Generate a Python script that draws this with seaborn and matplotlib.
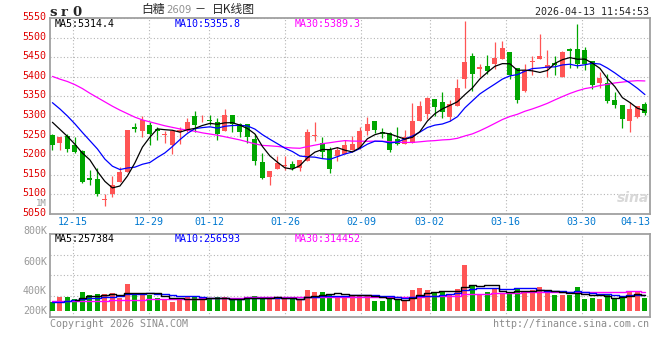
import numpy as np
import pandas as pd
import matplotlib
matplotlib.use("Agg")
import matplotlib.pyplot as plt
import matplotlib.transforms as mtransforms
import seaborn as sns

# daily candles (80 sessions, 12-10 .. 04-13)
opens = [5251, 5230, 5249, 5227, 5211, 5141, 5139, 5085, 5101, 5132,
         5156, 5273, 5261, 5278, 5266, 5252, 5225, 5259, 5265, 5301,
         5289, 5291, 5285, 5261, 5302, 5280, 5280, 5242, 5182, 5145,
         5166, 5172, 5178, 5168, 5184, 5249, 5232, 5214, 5197, 5203,
         5214, 5218, 5262, 5287, 5260, 5256, 5241, 5228, 5232, 5287,
         5305, 5343, 5336, 5298, 5325, 5394, 5453, 5421, 5428, 5433,
         5445, 5462, 5422, 5365, 5437, 5446, 5422, 5434, 5400, 5470,
         5471, 5468, 5440, 5385, 5383, 5341, 5328, 5286, 5298, 5331]
highs = [5254, 5247, 5254, 5246, 5213, 5162, 5168, 5100, 5147, 5170,
         5265, 5281, 5299, 5284, 5273, 5263, 5261, 5272, 5294, 5313,
         5303, 5302, 5296, 5318, 5302, 5282, 5280, 5253, 5206, 5159,
         5199, 5199, 5185, 5187, 5268, 5284, 5246, 5222, 5222, 5239,
         5250, 5273, 5297, 5287, 5269, 5260, 5271, 5264, 5332, 5339,
         5348, 5344, 5362, 5340, 5394, 5542, 5460, 5433, 5456, 5490,
         5491, 5462, 5422, 5432, 5452, 5509, 5468, 5453, 5466, 5474,
         5535, 5477, 5440, 5411, 5406, 5360, 5328, 5335, 5325, 5335]
lows = [5214, 5214, 5208, 5205, 5130, 5123, 5097, 5070, 5093, 5132,
        5156, 5260, 5246, 5225, 5240, 5230, 5204, 5228, 5260, 5260,
        5284, 5277, 5239, 5261, 5259, 5246, 5231, 5175, 5139, 5125,
        5165, 5161, 5161, 5159, 5184, 5235, 5194, 5154, 5184, 5203,
        5213, 5217, 5252, 5256, 5245, 5207, 5226, 5228, 5232, 5286,
        5292, 5300, 5294, 5286, 5325, 5372, 5365, 5400, 5407, 5419,
        5445, 5394, 5332, 5360, 5405, 5446, 5400, 5405, 5400, 5423,
        5423, 5417, 5369, 5371, 5332, 5320, 5269, 5258, 5296, 5302]
closes = [5225, 5247, 5215, 5208, 5132, 5138, 5100, 5088, 5125, 5156,
          5265, 5268, 5289, 5253, 5261, 5254, 5261, 5265, 5284, 5278,
          5291, 5288, 5254, 5302, 5280, 5259, 5246, 5184, 5143, 5159,
          5179, 5174, 5168, 5187, 5259, 5251, 5208, 5166, 5212, 5227,
          5229, 5262, 5280, 5264, 5253, 5212, 5229, 5247, 5287, 5326,
          5347, 5322, 5309, 5331, 5372, 5439, 5407, 5424, 5415, 5449,
          5473, 5405, 5341, 5417, 5440, 5453, 5430, 5431, 5464, 5467,
          5432, 5432, 5379, 5398, 5337, 5328, 5292, 5317, 5325, 5307]

# moving-average lines as drawn on the chart
ma5 = [5284, 5266, 5248, 5228, 5205.4, 5188.0, 5158.6, 5133.2, 5116.6, 5121.4,
       5146.8, 5180.4, 5220.6, 5246.2, 5267.2, 5265.0, 5263.6, 5258.8, 5265.0, 5268.4,
       5275.8, 5281.2, 5279.0, 5282.6, 5283.0, 5276.6, 5268.2, 5254.2, 5222.4, 5198.2,
       5182.2, 5167.8, 5164.6, 5173.4, 5193.4, 5207.8, 5214.6, 5214.2, 5219.2, 5212.8,
       5208.4, 5219.2, 5242.0, 5252.4, 5257.6, 5254.2, 5247.6, 5241.0, 5245.6, 5260.2,
       5287.2, 5305.8, 5318.2, 5327.0, 5336.2, 5354.6, 5371.6, 5394.6, 5411.4, 5426.8,
       5433.6, 5433.2, 5416.6, 5417.0, 5415.2, 5411.2, 5416.2, 5434.2, 5443.6, 5449.0,
       5444.8, 5445.2, 5434.8, 5421.6, 5395.6, 5374.8, 5346.8, 5334.4, 5319.8, 5313.8]
ma10 = [5334, 5318, 5300, 5280, 5258, 5237, 5216, 5190, 5172, 5163.4,
        5167.4, 5169.5, 5176.9, 5181.4, 5194.3, 5205.9, 5222.0, 5239.7, 5255.6, 5267.8,
        5270.4, 5272.4, 5268.9, 5273.8, 5275.7, 5276.2, 5274.7, 5266.6, 5252.5, 5240.6,
        5229.4, 5218.0, 5209.4, 5197.9, 5195.8, 5195.0, 5191.2, 5189.4, 5196.3, 5203.1,
        5208.1, 5216.9, 5228.1, 5235.8, 5235.2, 5231.3, 5233.4, 5241.5, 5249.0, 5258.9,
        5270.7, 5276.7, 5279.6, 5286.3, 5298.2, 5320.9, 5338.7, 5356.4, 5369.2, 5381.5,
        5394.1, 5402.4, 5405.6, 5414.2, 5421.0, 5422.4, 5424.7, 5425.4, 5430.3, 5432.1,
        5428.0, 5430.7, 5434.5, 5432.6, 5422.3, 5409.8, 5396.0, 5384.6, 5370.7, 5354.7]
ma30 = [5401, 5394, 5388, 5380, 5370, 5358, 5347, 5336, 5325, 5315,
        5306, 5297, 5290, 5285, 5280, 5275, 5271, 5267, 5264, 5261,
        5257, 5254, 5251, 5247, 5243, 5239, 5234, 5229, 5225, 5223.9,
        5222.4, 5220.0, 5218.4, 5217.7, 5221.9, 5225.7, 5229.3, 5231.9, 5234.8, 5237.2,
        5236.0, 5235.8, 5235.5, 5235.8, 5235.6, 5234.2, 5233.1, 5232.5, 5232.6, 5234.2,
        5236.1, 5237.2, 5239.0, 5240.0, 5243.1, 5249.1, 5254.4, 5262.4, 5271.5, 5281.2,
        5291.0, 5298.7, 5304.4, 5312.1, 5318.1, 5324.9, 5332.3, 5341.1, 5349.5, 5357.5,
        5364.3, 5369.9, 5373.2, 5377.7, 5380.5, 5384.4, 5386.5, 5388.8, 5390.1, 5389.4]

# volume in thousands of lots, and its averages
vol_k = [149, 224, 224, 190, 305, 256, 272, 272, 288, 211,
         437, 280, 262, 259, 211, 194, 146, 203, 222, 222,
         203, 190, 222, 224, 173, 178, 222, 240, 222, 224,
         191, 191, 191, 191, 337, 305, 305, 271, 238, 248,
         259, 259, 259, 162, 162, 206, 194, 178, 340, 373,
         345, 292, 308, 280, 356, 745, 405, 275, 308, 377,
         292, 292, 356, 324, 345, 389, 296, 259, 259, 264,
         389, 194, 215, 199, 254, 199, 248, 329, 308, 215]
vol_ma5 = [np.nan, np.nan, np.nan, 185, 218, 240, 249, 259, 279, 260,
           296, 298, 296, 290, 290, 241, 214, 203, 195, 197,
           199, 208, 212, 212, 202, 197, 204, 207, 207, 217,
           220, 214, 204, 198, 220, 243, 266, 282, 291, 273,
           264, 255, 253, 237, 220, 210, 197, 180, 216, 258,
           286, 306, 332, 320, 316, 396, 419, 412, 418, 422,
           331, 309, 325, 328, 322, 341, 342, 323, 310, 293,
           293, 273, 264, 252, 250, 212, 223, 246, 268, 260]
vol_ma10 = [146, 150, 165, 184, 200, 210, 216, 224, 230, 239,
            268, 274, 277, 284, 275, 269, 256, 249, 243, 244,
            220, 211, 207, 204, 200, 198, 206, 210, 210, 210,
            209, 209, 206, 202, 219, 231, 240, 243, 244, 247,
            254, 260, 267, 264, 247, 237, 226, 217, 227, 239,
            248, 251, 256, 268, 287, 341, 362, 372, 369, 369,
            364, 364, 369, 373, 372, 336, 325, 324, 319, 308,
            317, 308, 293, 281, 272, 253, 248, 255, 260, 255]
vol_ma30 = [157, 158, 160, 162, 164, 166, 168, 170, 172, 175,
            178, 181, 184, 187, 190, 192, 194, 196, 198, 200,
            203, 206, 209, 212, 215, 218, 222, 225, 228, 231,
            232, 231, 230, 230, 231, 233, 234, 234, 232, 233,
            227, 227, 227, 223, 222, 222, 224, 223, 227, 232,
            237, 240, 243, 245, 251, 270, 276, 277, 280, 285,
            288, 292, 297, 302, 302, 305, 304, 304, 305, 305,
            310, 307, 306, 307, 310, 310, 312, 317, 316, 311]

date_labels = ["12-15", "12-29", "01-12", "01-26", "02-09", "03-02", "03-16", "03-30", "04-13"]
date_slots = [3, 13, 21, 31, 41, 50, 60, 70, 79]

RED = "#ff5555"
GREEN = "#00a600"
GRID = "#b4b4b4"
FRAME = "#a0a0a0"
GRAY = "#8c8c8c"
DATE_BLUE = "#0078d0"
FS = 7.2

sns.set_style("white")
plt.rcParams["font.family"] = ["DejaVu Sans Mono", "Noto Sans CJK SC"]

W, H = 660, 360
fig = plt.figure(figsize=(W / 100, H / 100), dpi=100)
fig.patch.set_facecolor("white")


def box(left, top, right, bottom):
    return [left / W, 1 - bottom / H, (right - left) / W, (bottom - top) / H]


def ftext(x, y, s, **kw):
    kw.setdefault("va", "center")
    fig.text(x / W, 1 - y / H, s, **kw)


ax = fig.add_axes(box(50, 18, 650, 214))
axv = fig.add_axes(box(50, 234, 650, 317))

idx = np.arange(len(closes))
o, h, l, c = (np.array(v, dtype=float) for v in (opens, highs, lows, closes))
up = c >= o
colors = np.where(up, RED, GREEN)

# candles
ax.vlines(idx, l, h, colors=colors, linewidth=0.9, zorder=3)
ax.bar(idx, np.maximum(np.abs(c - o), 1.6), bottom=np.minimum(o, c),
       width=0.66, color=colors, linewidth=0, zorder=4)

for vals, col in ((ma30, "#ff00ff"), (ma10, "#0000ff"), (ma5, "black")):
    sns.lineplot(x=idx, y=vals, ax=ax, color=col, linewidth=0.9, zorder=5)

# volume
vdf = pd.DataFrame({"i": idx, "vol": vol_k, "dir": np.where(up, "up", "down")})
sns.barplot(data=vdf, x="i", y="vol", hue="dir", palette={"up": RED, "down": GREEN},
            native_scale=True, dodge=False, legend=False, width=0.68, saturation=1,
            errorbar=None, linewidth=0, ax=axv, zorder=3)
for vals, col in ((vol_ma30, "#ff00ff"), (vol_ma10, "#0000ff"), (vol_ma5, "black")):
    sns.lineplot(x=idx, y=vals, ax=axv, color=col, linewidth=1.0,
                 drawstyle="steps-mid", zorder=5)

tick_x = [s * 80 / 79 - 0.32 for s in date_slots]
for a in (ax, axv):
    a.set_xlim(-0.32, 79.68)
    a.set_xlabel("")
    a.set_ylabel("")
    for sp in a.spines.values():
        sp.set_color(FRAME)
        sp.set_linewidth(1.3)
    a.tick_params(length=0)
    a.set_xticks(tick_x)
    a.grid(True, color=GRID, linestyle=(0, (1, 2)), linewidth=0.8)
    a.set_axisbelow(True)

ax.set_ylim(5050, 5550)
ax.set_yticks(range(5050, 5551, 50))
ax.tick_params(axis="y", labelcolor="#e00000", labelsize=FS, pad=3)
ax.set_xticklabels(date_labels, color=DATE_BLUE, fontsize=FS)
ax.tick_params(axis="x", pad=2)
ax.get_xticklabels()[-1].set_horizontalalignment("right")
shift = mtransforms.ScaledTranslation(0, 1.4 / 72, fig.dpi_scale_trans)
for lab in ax.get_yticklabels():
    lab.set_transform(lab.get_transform() + shift)

axv.set_ylim(-97, 1247)
axv.set_yticks([243, 583, 907])
axv.set_yticklabels([])
axv.set_xticklabels([])

# header
ftext(49, 12, "s", fontsize=9.5, fontweight="bold", family="DejaVu Serif")
ftext(61, 12, "r", fontsize=9.5, fontweight="bold", family="DejaVu Serif")
ftext(72, 12, "0", fontsize=9.5, fontweight="bold", family="DejaVu Serif")
ftext(141, 10, "白糖", fontsize=8.5, family=["Noto Sans CJK SC", "DejaVu Sans"])
ftext(166, 10, "2609", fontsize=7.2, color="#909090", family="DejaVu Sans")
ftext(195, 10, "－", fontsize=8, family=["Noto Sans CJK SC", "DejaVu Sans"])
ftext(212, 10, "日K线图", fontsize=8.5, family=["Noto Sans CJK SC", "DejaVu Sans"])
ftext(649, 12, "2026-04-13 11:54:53", fontsize=FS, ha="right")

# legends in the panels
ftext(55, 24, "MA5:5314.4", fontsize=FS, color="black")
ftext(175, 24, "MA10:5355.8", fontsize=FS, color="#0000ff")
ftext(295, 24, "MA30:5389.3", fontsize=FS, color="#ff00ff")
ftext(55, 239, "MA5:257384", fontsize=FS, color="black")
ftext(175, 239, "MA10:256593", fontsize=FS, color="#0000ff")
ftext(295, 239, "MA30:314452", fontsize=FS, color="#ff00ff")

# volume scale labels
ftext(47, 203.5, "1M", fontsize=6.5, color="#9a9a9a", ha="right")
for s, y in (("800K", 231), ("600K", 262), ("400K", 291), ("200K", 311)):
    ftext(47, y, s, fontsize=FS, color="#9a9a9a", ha="right")

ftext(633, 198, "sina", fontsize=10, color="#d8d8d8", fontweight="bold",
      style="italic", family="DejaVu Sans", ha="center")

ftext(50, 324, "Copyright 2026 SINA.COM", fontsize=FS, color=GRAY)
ftext(649, 324, "http://finance.sina.com.cn", fontsize=FS, color=GRAY, ha="right")

fig.savefig("out.png", dpi=100)
